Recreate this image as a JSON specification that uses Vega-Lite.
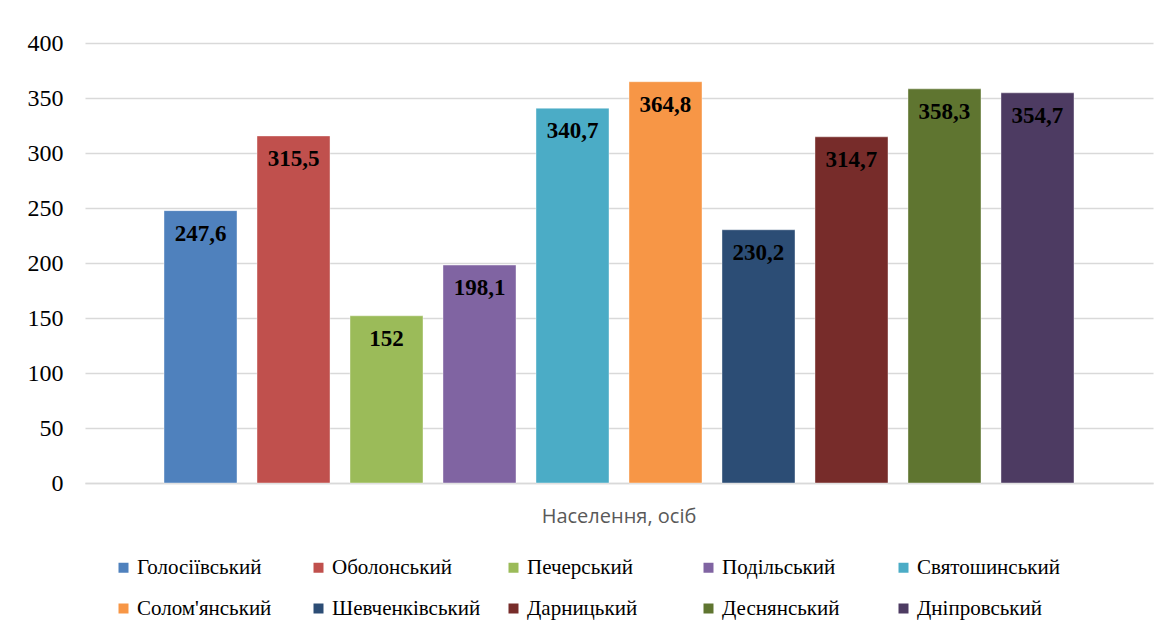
{
  "$schema": "https://vega.github.io/schema/vega-lite/v6.json",
  "width": 1068,
  "height": 440,
  "autosize": {"type": "none"},
  "padding": {"left": 85, "top": 43, "right": 18, "bottom": 148},
  "background": "white",
  "config": {
    "view": {"stroke": null},
    "locale": {"number": {"decimal": ",", "thousands": " ", "grouping": [3], "currency": ["", ""]}}
  },
  "data": {
    "values": [
      {"cat": "Населення, осіб", "district": "Голосіївський", "value": 247.6},
      {"cat": "Населення, осіб", "district": "Оболонський", "value": 315.5},
      {"cat": "Населення, осіб", "district": "Печерський", "value": 152},
      {"cat": "Населення, осіб", "district": "Подільський", "value": 198.1},
      {"cat": "Населення, осіб", "district": "Святошинський", "value": 340.7},
      {"cat": "Населення, осіб", "district": "Солом'янський", "value": 364.8},
      {"cat": "Населення, осіб", "district": "Шевченківський", "value": 230.2},
      {"cat": "Населення, осіб", "district": "Дарницький", "value": 314.7},
      {"cat": "Населення, осіб", "district": "Деснянський", "value": 358.3},
      {"cat": "Населення, осіб", "district": "Дніпровський", "value": 354.7}
    ]
  },
  "encoding": {
    "x": {
      "field": "cat", "type": "nominal",
      "scale": {"paddingInner": 0, "paddingOuter": 0.0742},
      "axis": {
        "title": null, "labelAngle": 0, "ticks": false,
        "domainColor": "#d9d9d9", "domainWidth": 1.5,
        "labelFont": "Open Sans", "labelFontSize": 20, "labelColor": "#595959",
        "labelPadding": 23
      }
    },
    "xOffset": {
      "field": "district", "type": "nominal", "sort": null,
      "scale": {"paddingInner": 0.215, "paddingOuter": 0.1075}
    },
    "y": {
      "field": "value", "type": "quantitative",
      "scale": {"domain": [0, 400]},
      "axis": {
        "title": null, "values": [0, 50, 100, 150, 200, 250, 300, 350, 400],
        "domain": false, "ticks": false,
        "gridColor": "#d9d9d9", "gridWidth": 1.5,
        "labelFont": "Liberation Serif", "labelFontSize": 24, "labelColor": "black",
        "labelPadding": 22
      }
    }
  },
  "layer": [
    {
      "mark": {"type": "bar", "stroke": "white", "strokeOpacity": 0.4, "strokeWidth": 1},
      "encoding": {
        "color": {
          "field": "district", "type": "nominal",
          "scale": {
            "domain": ["Голосіївський", "Оболонський", "Печерський", "Подільський", "Святошинський", "Солом'янський", "Шевченківський", "Дарницький", "Деснянський", "Дніпровський"],
            "range": ["#4F81BD", "#C0504D", "#9BBB59", "#8064A2", "#4BACC6", "#F79646", "#2C4D75", "#772C2A", "#5F7530", "#4D3B62"]
          },
          "legend": {
            "title": null, "orient": "none", "legendX": 28, "legendY": 514,
            "direction": "horizontal", "columns": 5, "gridAlign": "all",
            "symbolType": "square", "symbolSize": 100, "symbolStrokeWidth": 0,
            "labelFont": "Liberation Serif", "labelFontSize": 21, "labelColor": "black",
            "labelOffset": 3, "columnPadding": 22, "rowPadding": 19,
            "labelLimit": 300
          }
        }
      }
    },
    {
      "mark": {"type": "text", "baseline": "top", "dy": 12, "font": "Liberation Serif", "fontSize": 23, "fontWeight": "bold", "color": "black"},
      "encoding": {
        "text": {"field": "value", "type": "quantitative", "format": ".4~g"}
      }
    }
  ]
}
